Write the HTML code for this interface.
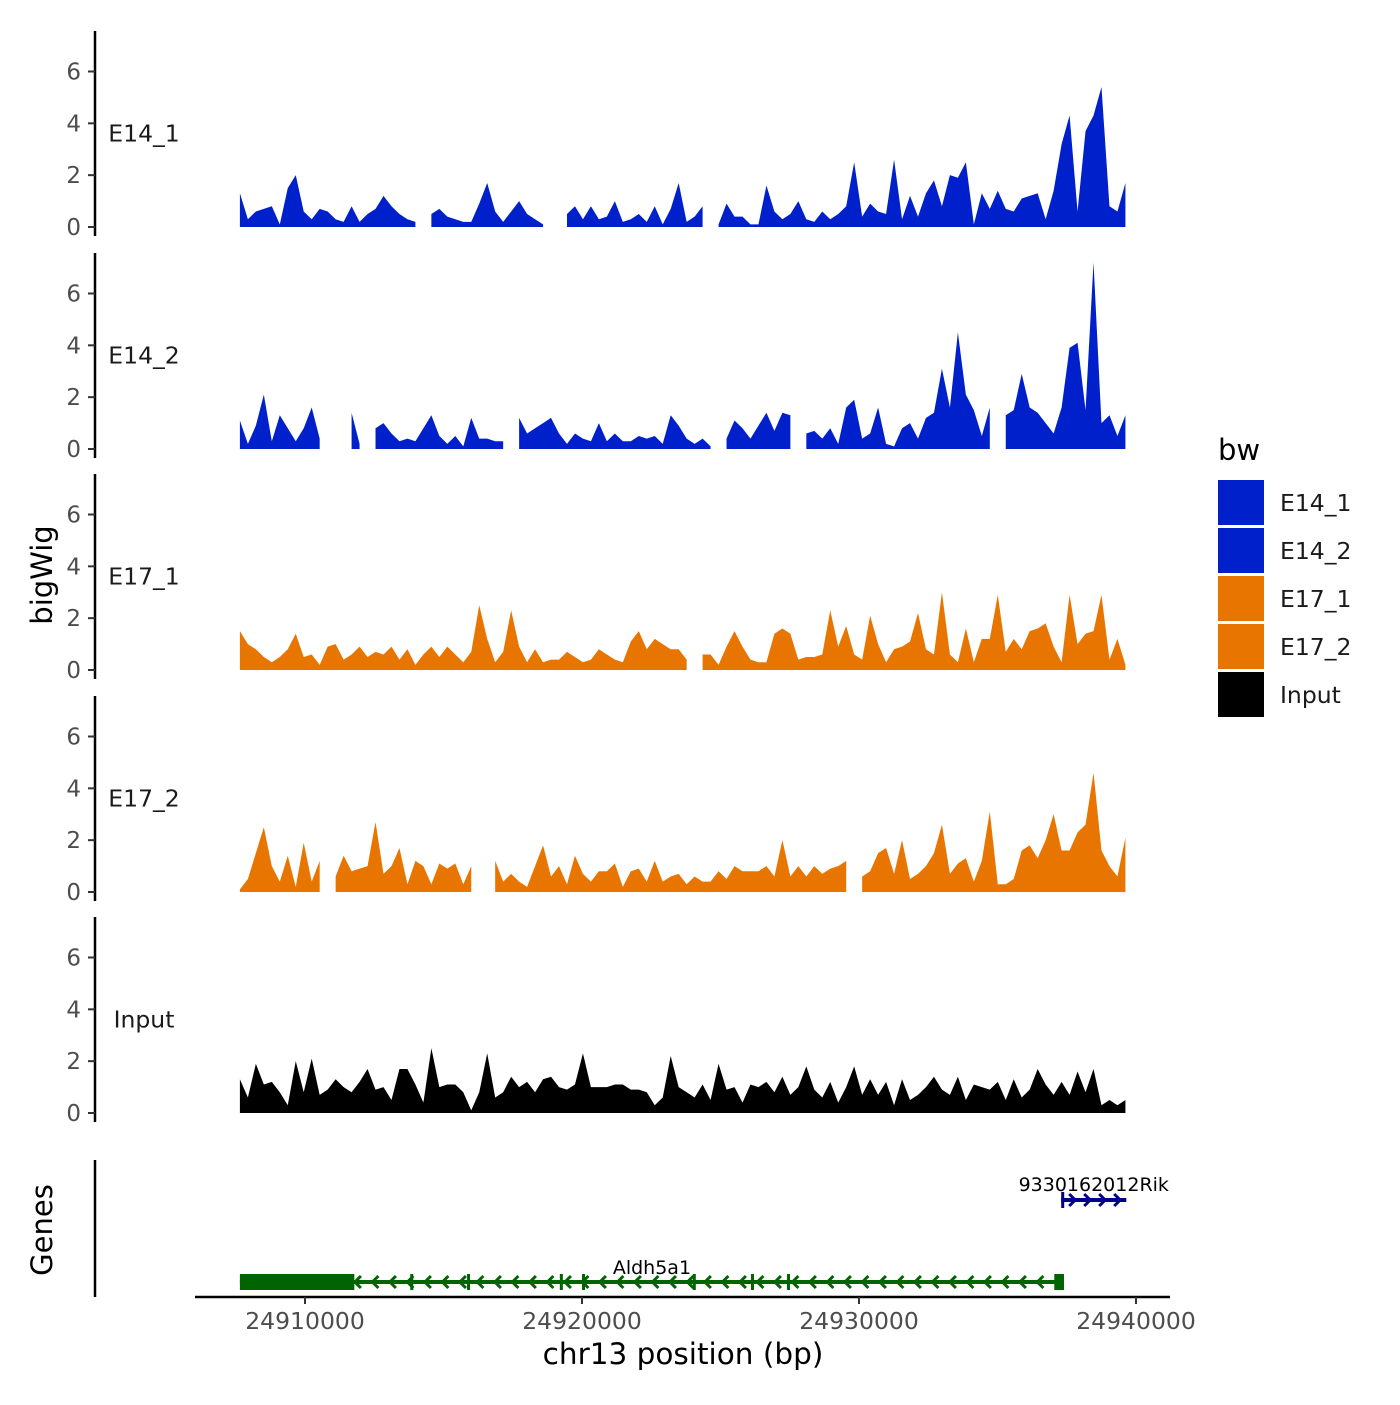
<!DOCTYPE html>
<html><head><meta charset="utf-8"><style>
body{margin:0;background:#fff}
svg text{font-family:"DejaVu Sans","Liberation Sans",sans-serif}
</style></head><body>
<svg id="chart" width="1400" height="1400" xmlns="http://www.w3.org/2000/svg"></svg>
<script>
const trackNames = ["E14_1","E14_2","E17_1","E17_2","Input"];
const trackColors = ["#0020CC","#0020CC","#E87500","#E87500","#000000"];
const binStart = 24907650;
const binStep = 288;
const yTicks = [0,2,4,6];
const xTicks = [24910000,24920000,24930000,24940000];
const xTickLabels = ["24910000","24920000","24930000","24940000"];
const N = null;
const e14_1 = [1.3,0.3,0.6,0.7,0.8,0.1,1.5,2.0,0.6,0.3,0.7,0.6,0.3,0.2,0.8,0.2,0.5,0.7,1.2,0.8,0.5,0.3,0.2,N,0.5,0.7,0.4,0.3,0.2,0.2,0.9,1.7,0.6,0.2,0.6,1.0,0.5,0.3,0.1,N,N,0.5,0.8,0.3,0.8,0.3,0.4,1.0,0.2,0.3,0.5,0.2,0.8,0.1,0.7,1.7,0.2,0.4,0.8,N,0.1,0.9,0.4,0.4,0.1,0.1,1.6,0.6,0.3,0.5,1.0,0.3,0.2,0.6,0.3,0.5,0.8,2.5,0.4,0.9,0.6,0.5,2.6,0.3,1.2,0.4,1.3,1.8,0.8,2.0,1.9,2.5,0.1,1.3,0.7,1.4,0.7,0.6,1.1,1.2,1.3,0.3,1.4,3.2,4.3,0.6,3.7,4.3,5.4,0.8,0.6,1.7];
const e14_2 = [1.1,0.2,0.9,2.1,0.3,1.3,0.8,0.3,0.8,1.6,0.4,N,N,N,1.4,0.2,N,0.8,1.0,0.6,0.3,0.4,0.3,0.8,1.3,0.5,0.2,0.5,0.1,1.2,0.4,0.4,0.3,0.3,N,1.2,0.6,0.8,1.0,1.2,0.6,0.2,0.6,0.4,0.3,1.0,0.3,0.6,0.3,0.3,0.5,0.4,0.5,0.2,1.3,0.9,0.4,0.2,0.4,0.1,N,0.4,1.1,0.8,0.4,0.9,1.4,0.7,1.4,1.3,N,0.6,0.7,0.4,0.8,0.2,1.6,1.9,0.4,0.6,1.6,0.2,0.1,0.8,1.0,0.4,1.2,1.4,3.1,1.6,4.5,2.1,1.5,0.5,1.6,N,1.3,1.5,2.9,1.6,1.4,1.0,0.6,1.6,3.9,4.1,1.5,7.2,1.0,1.3,0.5,1.3];
const e17_1 = [1.5,1.0,0.8,0.5,0.3,0.5,0.8,1.4,0.5,0.6,0.2,0.9,1.0,0.4,0.6,0.9,0.5,0.7,0.6,0.9,0.4,0.8,0.2,0.6,0.9,0.5,0.9,0.6,0.3,0.7,2.5,1.2,0.3,0.7,2.3,0.9,0.3,0.8,0.3,0.4,0.4,0.7,0.5,0.3,0.4,0.8,0.6,0.4,0.3,1.1,1.5,0.8,1.2,1.0,0.8,0.8,0.4,N,0.6,0.6,0.2,0.9,1.5,0.9,0.4,0.3,0.3,1.4,1.6,1.4,0.4,0.5,0.5,0.6,2.3,0.9,1.7,0.6,0.4,2.1,1.0,0.3,0.8,0.9,1.1,2.2,0.8,0.6,3.0,0.6,0.3,1.6,0.3,1.2,1.2,2.9,0.7,1.2,0.8,1.5,1.6,1.8,0.9,0.3,2.9,1.0,1.4,1.5,2.9,0.4,1.2,0.2];
const e17_2 = [0.1,0.5,1.5,2.5,1.0,0.4,1.4,0.2,1.9,0.4,1.2,N,0.6,1.4,0.8,0.9,1.0,2.7,0.7,1.0,1.7,0.3,1.2,1.0,0.3,1.1,0.9,1.1,0.3,1.0,N,N,1.2,0.4,0.7,0.4,0.2,1.0,1.8,0.6,1.0,0.3,1.4,0.7,0.4,0.8,0.8,1.1,0.2,0.8,0.9,0.4,1.2,0.4,0.6,0.7,0.3,0.6,0.4,0.4,0.8,0.5,1.0,0.8,0.8,0.8,1.0,0.6,2.0,0.6,1.0,0.6,1.0,0.7,0.9,1.0,1.2,N,0.6,0.8,1.5,1.7,0.7,2.0,0.5,0.7,1.0,1.5,2.6,0.7,1.1,1.3,0.4,1.2,3.1,0.3,0.3,0.5,1.6,1.8,1.3,2.0,3.0,1.6,1.6,2.3,2.6,4.6,1.6,1.0,0.6,2.1];
const input = [1.3,0.6,1.9,1.1,1.2,0.8,0.3,2.0,0.8,2.1,0.7,0.9,1.3,1.0,0.8,1.2,1.7,0.9,1.0,0.5,1.7,1.7,1.1,0.4,2.5,1.0,1.1,1.1,0.8,0.1,0.8,2.3,0.6,0.8,1.4,1.0,1.2,0.8,1.3,1.4,1.0,0.9,1.1,2.3,1.0,1.0,1.0,1.1,1.1,0.9,0.9,0.8,0.3,0.6,2.2,1.0,0.8,0.6,1.1,0.5,1.9,0.9,1.0,0.4,1.1,1.0,1.2,0.8,1.4,0.7,1.0,1.8,0.9,0.6,1.2,0.4,1.0,1.8,0.7,1.3,0.7,1.2,0.3,1.3,0.5,0.7,1.0,1.4,0.9,0.7,1.4,0.5,1.1,1.0,0.9,1.2,0.5,1.3,0.6,0.9,1.7,1.1,0.7,1.2,0.7,1.6,0.8,1.7,0.3,0.5,0.3,0.5];
const trackValues = [e14_1,e14_2,e17_1,e17_2,input];
const legendNames = ["E14_1","E14_2","E17_1","E17_2","Input"];
// genes
const aldhStart = 24907650, aldhEnd = 24937400;
const aldhExons = [[24907650,24911780],[24913800,24913850],[24915850,24915900],[24919200,24919250],[24920000,24920050],[24924000,24924050],[24926100,24926150],[24927400,24927450],[24937050,24937400]];
const rikStart = 24937300, rikEnd = 24939650;
const rikExons = [[24937300,24937400]];

const svg = document.getElementById('chart');
const NS = 'http://www.w3.org/2000/svg';
function mk(tag, attrs, parent){const e=document.createElementNS(NS,tag);for(const k in attrs)e.setAttribute(k,attrs[k]);(parent||svg).appendChild(e);return e;}
const xScale = v => 305 + (v-24910000)*(1136-305)/30000;
const panelZero = [227,449,670,892,1113];
const yScale = (p,v) => panelZero[p] - v*155.5/6;

for(let p=0;p<5;p++){
  const g = mk('g',{});
  
  
  const axTop = panelZero[p]-196, axBot = panelZero[p]+9;
  const ax = mk('line',{x1:95,x2:95,y1:axTop,y2:axBot,stroke:'#000','stroke-width':2.5},g);
  
  
  yTicks.forEach(t=>{
    const y=yScale(p,t);
    const tk = mk('line',{x1:88,x2:95,y1:y,y2:y,stroke:'#333','stroke-width':2},g);
    
    
    const tl = mk('text',{x:81,y:y+8,'text-anchor':'end','font-size':23,fill:'#4d4d4d'},g);
    tl.textContent=t;
    
    
  });
  const lab = mk('text',{x:144,y:yScale(p,3.6)+8,'text-anchor':'middle','font-size':23.5,fill:'#1a1a1a'},g);
  lab.textContent=trackNames[p];
  
  
  const vals = trackValues[p];
  let seg=[];
  const flush=()=>{
    if(seg.length>1){
      let d='M'+seg[0][0]+','+yScale(p,0);
      seg.forEach(s=>{d+=' L'+s[0]+','+s[1];});
      d+=' L'+seg[seg.length-1][0]+','+yScale(p,0)+' Z';
      const a = mk('path',{d:d,fill:trackColors[p]},g);
      
      
    }
    seg=[];
  };
  vals.forEach((v,i)=>{
    const x = xScale(binStart+i*binStep);
    if(v===null){flush();}
    else seg.push([x,yScale(p,v)]);
  });
  flush();
}

const yt = mk('text',{x:0,y:0,'font-size':29,'text-anchor':'middle',transform:'translate(52,575) rotate(-90)'});
yt.textContent='bigWig';



const gg = mk('g',{});


const gax = mk('line',{x1:95,x2:95,y1:1160,y2:1297,stroke:'#000','stroke-width':2.5},gg);


const gt = mk('text',{x:0,y:0,'font-size':29,'text-anchor':'middle',transform:'translate(52,1230) rotate(-90)'},gg);
gt.textContent='Genes';



function drawGene(name,start,end,exons,y,color,dir,labelY){
  const g = mk('g',{},gg);
  
  
  mk('line',{x1:xScale(start),x2:xScale(end),y1:y,y2:y,stroke:color,'stroke-width':4},g);
  const x0=xScale(start), x1=xScale(end);
  for(let x=x0+12;x<x1-6;x+=dir<0?17.5:15){
    const d = dir<0 ? `M${x+4},${y-6} L${x-2},${y} L${x+4},${y+6}` : `M${x-4},${y-6} L${x+2},${y} L${x-4},${y+6}`;
    mk('path',{d:d,stroke:color,'stroke-width':3,fill:'none'},g);
  }
  exons.forEach(e=>{
    const ex=xScale(e[0]), w=Math.max(3,xScale(e[1])-ex);
    const r = mk('rect',{x:ex,y:y-8,width:w,height:16,fill:color},g);
    
    
  });
  const t = mk('text',{x:(x0+x1)/2,y:labelY,'text-anchor':'middle','font-size':19,fill:'#000'},g);
  t.textContent=name;
  
  
}
drawGene('Aldh5a1',aldhStart,aldhEnd,aldhExons,1282,'#006400',-1,1274);
drawGene('9330162012Rik',rikStart,rikEnd,rikExons,1200,'#00008B',1,1191);

const xg = mk('g',{});


mk('line',{x1:195,x2:1170,y1:1297,y2:1297,stroke:'#000','stroke-width':2.5},xg);
xTicks.forEach((t,i)=>{
  const x=xScale(t);
  const tk = mk('line',{x1:x,x2:x,y1:1297,y2:1304,stroke:'#333','stroke-width':2},xg);
  
  
  const tl = mk('text',{x:x,y:1329,'text-anchor':'middle','font-size':23.5,fill:'#4d4d4d'},xg);
  tl.textContent=xTickLabels[i];
  
  
});
const xt = mk('text',{x:683,y:1364,'text-anchor':'middle','font-size':29.5});
xt.textContent='chr13 position (bp)';



const lg = mk('g',{});


const lt = mk('text',{x:1218,y:460,'font-size':29},lg);
lt.textContent='bw';


legendNames.forEach((n,i)=>{
  const y=480+i*48;
  const e = mk('g',{},lg);
  
  
  mk('rect',{x:1218,y:y,width:46,height:45,fill:trackColors[i]},e);
  const t = mk('text',{x:1280,y:y+31,'font-size':23.5,fill:'#1a1a1a'},e);
  t.textContent=n;
});
</script>
</body></html>
